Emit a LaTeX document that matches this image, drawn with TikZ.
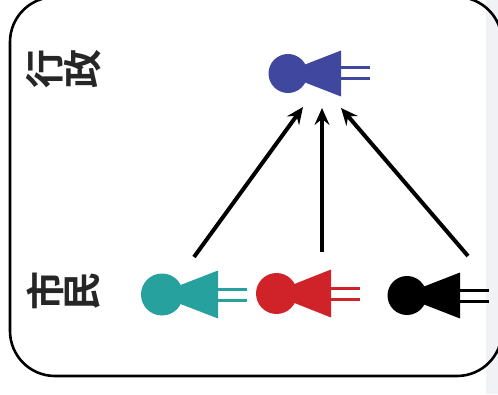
\documentclass[tikz,border=0pt]{standalone}
\usepackage{fontspec}
\newfontfamily\cjk{Noto Sans CJK SC}[BoldFont={* Bold}]
\usetikzlibrary{arrows.meta}
\definecolor{gyoseiblue}{HTML}{3F479F}
\definecolor{shiminteal}{HTML}{26A19E}
\definecolor{shiminred}{HTML}{CF2329}
\definecolor{edgegray}{HTML}{F1F2F6}
\tikzset{
    label/.style={font=\cjk\bfseries\fontsize{39}{39}\selectfont, rotate=90, text=black!85, inner sep=0},
    head/.style={circle, fill=#1, inner sep=0},
    link/.style={line width=4pt, -{Stealth[length=17pt,width=15pt,inset=6pt]}},
}
% #1 name, #2 colour, #3 x, #4 y, #5 diameter, #6 half height, #7 length
\newcommand{\figureat}[7]{
    \node[head=#2, minimum size=#5pt] (#1) at (#3,#4) {};
    \fill[#2] (#3-6,#4) -- (#3+#7,#4+#6) -- (#3+#7,#4-#6) -- cycle;
    \draw[#2, line width=3pt] (#3+#7-1,#4+5.5) -- (#3+#7+29,#4+5.5) (#3+#7-1,#4-5.5) -- (#3+#7+29,#4-5.5);
}
\begin{document}
\begin{tikzpicture}[x=1pt,y=1pt]
\useasboundingbox (0,0) rectangle (498,394);

\begin{scope}
\clip (0,0) rectangle (498,394);
\fill[edgegray] (486,0) rectangle (498,394);
\draw[line width=2.6pt, rounded corners=45pt] (10,18) rectangle (502,397);
\end{scope}

\node[label] (gyo) at (45,325) {行};
\node[label] (sei) at (83,325) {政};
\node[label] (shi) at (45,103) {市};
\node[label] (min) at (83,103) {民};

\figureat{admin}{gyoseiblue}{288}{320.5}{39}{23}{53}
\figureat{citizenA}{shiminteal}{162}{99.5}{42}{24}{56}
\figureat{citizenB}{shiminred}{276.5}{100.5}{41}{24}{54.5}
\figureat{citizenC}{black}{407}{98.5}{39}{23}{53}

% arrow ends
\coordinate (tailA) at (194,137);
\coordinate (tailB) at (322,142);
\coordinate (tailC) at (468,138);
\coordinate (tipA) at (303,287);
\coordinate (tipB) at (322,286);
\coordinate (tipC) at (341,286);

\draw[link] (tailA) -- (tipA);
\draw[link] (tailB) -- (tipB);
\draw[link] (tailC) -- (tipC);

\end{tikzpicture}
\end{document}
